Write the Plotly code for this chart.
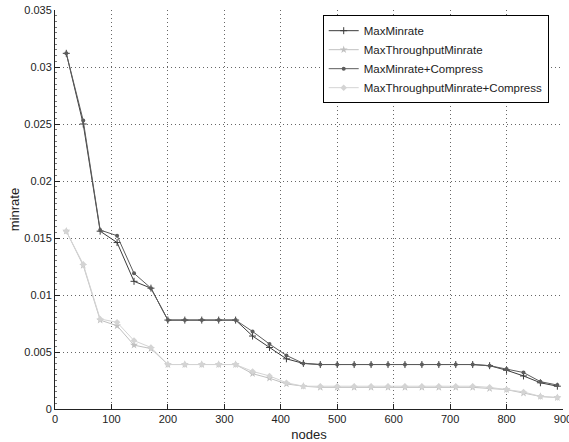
import plotly.graph_objects as go

nodes = [20, 50, 80, 110, 140, 170, 200, 230, 260, 290, 320, 350, 380, 410, 440,
         470, 500, 530, 560, 590, 620, 650, 680, 710, 740, 770, 800, 830, 860, 890]

max_minrate = [0.0312, 0.0250, 0.0156, 0.0146, 0.0112, 0.0106, 0.0078, 0.0078, 0.0078, 0.0078,
               0.0078, 0.0064, 0.0054, 0.0044, 0.0040, 0.0039, 0.0039, 0.0039, 0.0039, 0.0039,
               0.0039, 0.0039, 0.0039, 0.0039, 0.0039, 0.0038, 0.0034, 0.0029, 0.0023, 0.0020]

max_tp_minrate = [0.0156, 0.0126, 0.0078, 0.0073, 0.0056, 0.0053, 0.0039, 0.0039, 0.0039, 0.0039,
                  0.0039, 0.0031, 0.0027, 0.0022, 0.0020, 0.0019, 0.0019, 0.0019, 0.0019, 0.0019,
                  0.0019, 0.0019, 0.0019, 0.0019, 0.0019, 0.0018, 0.0017, 0.0014, 0.0011, 0.0010]

max_minrate_c = [0.0312, 0.0253, 0.0157, 0.0152, 0.0119, 0.0106, 0.0078, 0.0078, 0.0078, 0.0078,
                 0.0078, 0.0068, 0.0057, 0.0047, 0.0040, 0.0039, 0.0039, 0.0039, 0.0039, 0.0039,
                 0.0039, 0.0039, 0.0039, 0.0039, 0.0039, 0.0038, 0.0035, 0.0032, 0.0024, 0.0021]

max_tp_minrate_c = [0.0156, 0.0127, 0.0079, 0.0076, 0.0060, 0.0054, 0.0039, 0.0039, 0.0039, 0.0039,
                    0.0039, 0.0033, 0.0029, 0.0023, 0.0020, 0.0020, 0.0020, 0.0020, 0.0020, 0.0020,
                    0.0020, 0.0020, 0.0020, 0.0020, 0.0020, 0.0019, 0.0017, 0.0015, 0.0011, 0.0010]

x_ticks = [0, 100, 200, 300, 400, 500, 600, 700, 800, 900]
y_ticks = [0, 0.005, 0.01, 0.015, 0.02, 0.025, 0.03, 0.035]
y_tick_labels = ["0", "0.005", "0.01", "0.015", "0.02", "0.025", "0.03", "0.035"]

series = [
    ("MaxMinrate", max_minrate, "#3c3c3c", dict(symbol="cross-thin", size=5, line=dict(width=1, color="#3c3c3c"))),
    ("MaxThroughputMinrate", max_tp_minrate, "#c0c0c0", dict(symbol="star", size=6, color="#c0c0c0")),
    ("MaxMinrate+Compress", max_minrate_c, "#5c5c5c", dict(symbol="circle", size=4, color="#5c5c5c")),
    ("MaxThroughputMinrate+Compress", max_tp_minrate_c, "#d4d4d4", dict(symbol="diamond", size=5, color="#d4d4d4")),
]

fig = go.Figure()
for name, vals, col, mk in series:
    fig.add_trace(go.Scatter(x=nodes, y=vals, name=name, mode="lines+markers",
                             line=dict(color=col, width=1), marker=mk))

axis_font = dict(family="Liberation Sans, Arial, sans-serif", size=11, color="#222")
fig.update_layout(
    width=569, height=442,
    margin=dict(l=55, r=6, t=10, b=33),
    plot_bgcolor="white", paper_bgcolor="white",
    font=axis_font,
    showlegend=True,
    legend=dict(x=0.527, y=0.987, xanchor="left", yanchor="top",
                bordercolor="black", borderwidth=1, bgcolor="white",
                font=dict(family="Liberation Sans, Arial, sans-serif", size=11.5, color="#222"),
                tracegroupgap=0, itemwidth=30),
    xaxis=dict(range=[0, 900], tickvals=x_ticks, ticks="inside", ticklen=5,
               tickcolor="#222", showline=True, linecolor="#222", linewidth=1,
               showgrid=True, gridcolor="#666", griddash="1px,3px", gridwidth=1,
               zeroline=False, automargin=False, ticklabeloverflow="allow",
               title=dict(text="nodes", standoff=6), tickfont=axis_font),
    yaxis=dict(range=[0, 0.035], tickvals=y_ticks, ticktext=y_tick_labels, ticks="inside", ticklen=5,
               tickcolor="#222", showline=True, linecolor="#222", linewidth=1,
               showgrid=True, gridcolor="#666", griddash="1px,3px", gridwidth=1,
               minor=dict(dtick=0.0005, ticks="inside", ticklen=2, tickcolor="#777", showgrid=False),
               zeroline=False, automargin=False, ticklabeloverflow="allow",
               title=dict(text="minrate", standoff=1), tickfont=axis_font),
)
fig.write_html("out.html", config={"displayModeBar": False},
               post_script="document.body.style.margin='0';")
